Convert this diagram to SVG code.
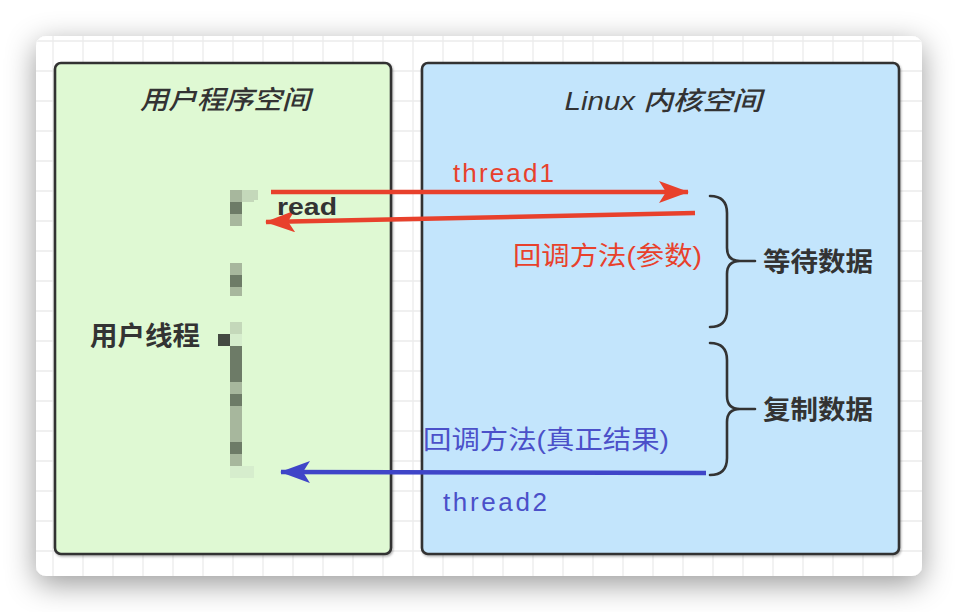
<svg xmlns="http://www.w3.org/2000/svg" width="958" height="612" viewBox="0 0 958 612">
<defs>
<filter id="sh" x="-10%" y="-20%" width="120%" height="145%">
<feDropShadow dx="0" dy="8" stdDeviation="15" flood-color="#000" flood-opacity="0.4"/>
</filter>
<filter id="psh" x="-5%" y="-5%" width="110%" height="110%">
<feDropShadow dx="1" dy="1.5" stdDeviation="1" flood-color="#000" flood-opacity="0.3"/>
</filter>
<clipPath id="cardclip"><rect x="36" y="36" width="886" height="540" rx="10"/></clipPath>
<marker id="ahr" viewBox="0 0 30 22" refX="29" refY="11" markerWidth="30" markerHeight="22" markerUnits="userSpaceOnUse" orient="auto">
<path d="M0,0 L30,11 L0,22 L7,11 Z" fill="#e8412c"/>
</marker>
<marker id="ahb" viewBox="0 0 30 22" refX="29" refY="11" markerWidth="30" markerHeight="22" markerUnits="userSpaceOnUse" orient="auto">
<path d="M0,0 L30,11 L0,22 L7,11 Z" fill="#3f45c8"/>
</marker>
</defs>
<style>
.grid line{stroke:#ebebeb;stroke-width:1.3}
.panel{stroke:#333;stroke-width:2.6}
.title{font-family:"Liberation Sans","Noto Sans CJK SC",sans-serif;font-style:italic;font-weight:500;font-size:26px;fill:#333;text-anchor:middle}
.lbl{font-family:"Liberation Sans","Noto Sans CJK SC",sans-serif;font-size:26px;fill:#333}
.dk{font-weight:600}
.red{fill:#e8412c}
.blue{fill:#4b50c9}
.brace{fill:none;stroke:#333;stroke-width:2.6;stroke-linecap:round}
.t1{fill:#a7b79d}.t2{fill:#6d7b67}.t3{fill:#d6edcd}.t4{fill:#c4d8ba}
</style>
<rect width="958" height="612" fill="#fff"/>
<rect x="36" y="36" width="886" height="540" rx="10" fill="#fff" filter="url(#sh)"/>
<g class="grid" clip-path="url(#cardclip)">
<line x1="53" y1="36" x2="53" y2="576"/><line x1="83" y1="36" x2="83" y2="576"/><line x1="113" y1="36" x2="113" y2="576"/><line x1="143" y1="36" x2="143" y2="576"/><line x1="173" y1="36" x2="173" y2="576"/><line x1="203" y1="36" x2="203" y2="576"/><line x1="233" y1="36" x2="233" y2="576"/><line x1="263" y1="36" x2="263" y2="576"/><line x1="293" y1="36" x2="293" y2="576"/><line x1="323" y1="36" x2="323" y2="576"/><line x1="353" y1="36" x2="353" y2="576"/><line x1="383" y1="36" x2="383" y2="576"/><line x1="413" y1="36" x2="413" y2="576"/><line x1="443" y1="36" x2="443" y2="576"/><line x1="473" y1="36" x2="473" y2="576"/><line x1="503" y1="36" x2="503" y2="576"/><line x1="533" y1="36" x2="533" y2="576"/><line x1="563" y1="36" x2="563" y2="576"/><line x1="593" y1="36" x2="593" y2="576"/><line x1="623" y1="36" x2="623" y2="576"/><line x1="653" y1="36" x2="653" y2="576"/><line x1="683" y1="36" x2="683" y2="576"/><line x1="713" y1="36" x2="713" y2="576"/><line x1="743" y1="36" x2="743" y2="576"/><line x1="773" y1="36" x2="773" y2="576"/><line x1="803" y1="36" x2="803" y2="576"/><line x1="833" y1="36" x2="833" y2="576"/><line x1="863" y1="36" x2="863" y2="576"/><line x1="893" y1="36" x2="893" y2="576"/>
<line x1="36" y1="41" x2="922" y2="41"/><line x1="36" y1="71" x2="922" y2="71"/><line x1="36" y1="101" x2="922" y2="101"/><line x1="36" y1="131" x2="922" y2="131"/><line x1="36" y1="161" x2="922" y2="161"/><line x1="36" y1="191" x2="922" y2="191"/><line x1="36" y1="221" x2="922" y2="221"/><line x1="36" y1="251" x2="922" y2="251"/><line x1="36" y1="281" x2="922" y2="281"/><line x1="36" y1="311" x2="922" y2="311"/><line x1="36" y1="341" x2="922" y2="341"/><line x1="36" y1="371" x2="922" y2="371"/><line x1="36" y1="401" x2="922" y2="401"/><line x1="36" y1="431" x2="922" y2="431"/><line x1="36" y1="461" x2="922" y2="461"/><line x1="36" y1="491" x2="922" y2="491"/><line x1="36" y1="521" x2="922" y2="521"/><line x1="36" y1="551" x2="922" y2="551"/>
</g>
<g id="user-space">
<rect class="panel" x="55" y="63" width="336" height="491" rx="6" fill="#dff9d3" filter="url(#psh)"/>
<text class="title" x="225" y="109" textLength="170" lengthAdjust="spacingAndGlyphs">用户程序空间</text>
</g>
<g id="kernel-space">
<rect class="panel" x="422" y="63" width="477" height="491" rx="6" fill="#c3e5fc" filter="url(#psh)"/>
<text class="title" x="663" y="110" textLength="197" lengthAdjust="spacingAndGlyphs">Linux 内核空间</text>
</g>
<g id="user-thread">
<rect class="t1" x="230" y="190" width="12" height="12"/><rect class="t4" x="242" y="190" width="12" height="12"/><rect class="t4" x="254" y="190" width="4" height="10"/>
<rect class="t2" x="230" y="202" width="12" height="12"/><rect class="t1" x="230" y="214" width="12" height="12"/>
<rect class="t1" x="230" y="263" width="12" height="12"/><rect class="t2" x="230" y="275" width="12" height="12"/><rect class="t1" x="230" y="287" width="12" height="9"/>
<rect class="t4" x="230" y="322" width="12" height="12"/><rect class="t3" x="230" y="334" width="12" height="12"/><rect x="218" y="334" width="12" height="12" fill="#444a42"/>
<rect class="t2" x="230" y="346" width="12" height="36"/><rect class="t1" x="230" y="382" width="12" height="12"/><rect class="t2" x="230" y="394" width="12" height="12"/><rect class="t1" x="230" y="406" width="12" height="36"/><rect class="t2" x="230" y="442" width="12" height="12"/><rect class="t1" x="230" y="454" width="12" height="12"/><rect class="t3" x="230" y="466" width="12" height="12"/><rect class="t3" x="242" y="466" width="12" height="12"/>
<text class="lbl dk" x="90" y="345" textLength="110" lengthAdjust="spacingAndGlyphs">用户线程</text>
</g>
<g id="wait-data">
<path class="brace" d="M710,196 Q727,196 727,213 L727,248 Q727,261 740,261 L755,261 M740,261 Q727,261 727,274 L727,310 Q727,327 710,327"/>
<text class="lbl dk" x="763" y="271" textLength="110" lengthAdjust="spacingAndGlyphs">等待数据</text>
</g>
<g id="copy-data">
<path class="brace" d="M710,343 Q727,343 727,360 L727,396 Q727,409 740,409 L755,409 M740,409 Q727,409 727,422 L727,458 Q727,475 710,475"/>
<text class="lbl dk" x="763" y="419" textLength="110" lengthAdjust="spacingAndGlyphs">复制数据</text>
</g>
<g id="connectors">
<line x1="271" y1="192" x2="688" y2="192" stroke="#e8412c" stroke-width="4.5" marker-end="url(#ahr)"/>
<line x1="695" y1="213" x2="266" y2="222" stroke="#e8412c" stroke-width="4.5" marker-end="url(#ahr)"/>
<line x1="706" y1="473" x2="281" y2="472" stroke="#3f45c8" stroke-width="4.5" marker-end="url(#ahb)"/>
<text class="lbl red" x="453" y="182" font-size="25" textLength="101" lengthAdjust="spacing">thread1</text>
<text x="277" y="215" font-family="Liberation Sans, Noto Sans, sans-serif" font-weight="bold" font-size="23" fill="#333" textLength="60" lengthAdjust="spacingAndGlyphs">read</text>
<text class="lbl red" x="513" y="265" font-size="24" textLength="189" lengthAdjust="spacingAndGlyphs">回调方法(参数)</text>
<text class="lbl blue" x="423" y="449" font-size="24" textLength="246" lengthAdjust="spacingAndGlyphs">回调方法(真正结果)</text>
<text class="lbl blue" x="443" y="511" font-size="25" textLength="104" lengthAdjust="spacing">thread2</text>
</g>
</svg>
